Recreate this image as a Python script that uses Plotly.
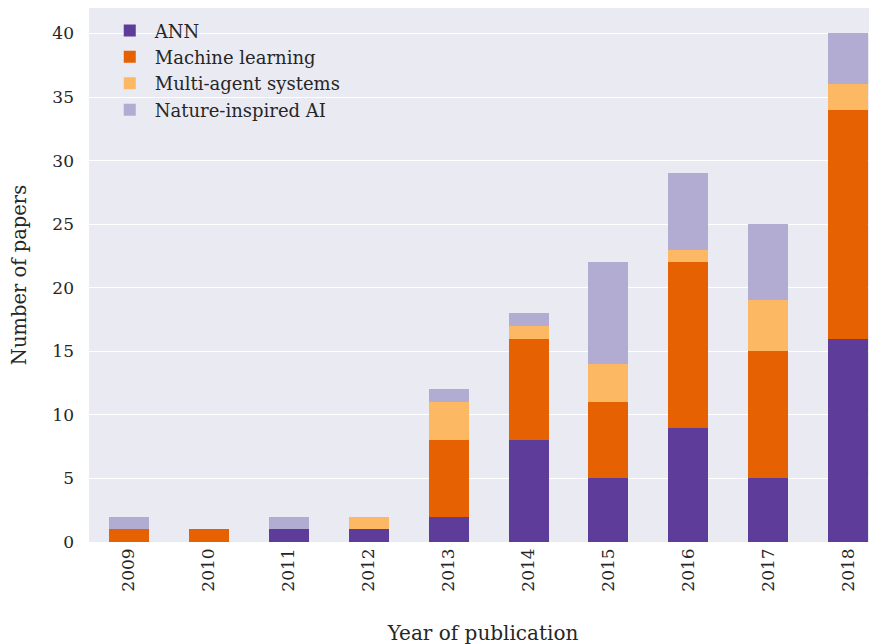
import plotly.graph_objects as go

years = ["2009", "2010", "2011", "2012", "2013", "2014", "2015", "2016", "2017", "2018"]
ann = [0, 0, 1, 1, 2, 8, 5, 9, 5, 16]
machine_learning = [1, 1, 0, 0, 6, 8, 6, 13, 10, 18]
multi_agent = [0, 0, 0, 1, 3, 1, 3, 1, 4, 2]
nature_inspired = [1, 0, 1, 0, 1, 1, 8, 6, 6, 4]

series = [
    ("ANN", ann, "#5e3c99"),
    ("Machine learning", machine_learning, "#e66101"),
    ("Multi-agent systems", multi_agent, "#fdb863"),
    ("Nature-inspired AI", nature_inspired, "#b2abd2"),
]

fig = go.Figure()
for name, vals, col in series:
    fig.add_trace(go.Bar(x=years, y=vals, name=name, marker_color=col,
                         marker_line_width=0, width=0.5))

# the page body adds an 8px offset, so margins are set 8px smaller
font = "DejaVu Serif"
fig.update_layout(
    barmode="stack",
    width=877, height=644,
    margin=dict(l=81, r=8, t=0, b=110),
    paper_bgcolor="white",
    plot_bgcolor="#eaeaf2",
    font=dict(family=font, size=17, color="#262626"),
    showlegend=True,
    legend=dict(x=0.02, y=0.992, xanchor="left", yanchor="top",
                bgcolor="rgba(0,0,0,0)", font=dict(size=18),
                traceorder="normal", itemwidth=40, tracegroupgap=0),
)
fig.update_xaxes(
    type="category", range=[-0.5, 9.36], tickangle=-90,
    showgrid=False, ticks="", zeroline=False, automargin=False,
    ticklabelstandoff=2,
    title=dict(text="Year of publication", font=dict(size=20), standoff=35),
    tickfont=dict(size=17),
)
fig.update_yaxes(
    range=[0, 42], dtick=5, gridcolor="white", gridwidth=1.2,
    ticks="", zeroline=False, ticklabelstandoff=14, automargin=False,
    title=dict(text="Number of papers", font=dict(size=19.5), standoff=20),
    tickfont=dict(size=17),
)

fig.write_html("out.html")
